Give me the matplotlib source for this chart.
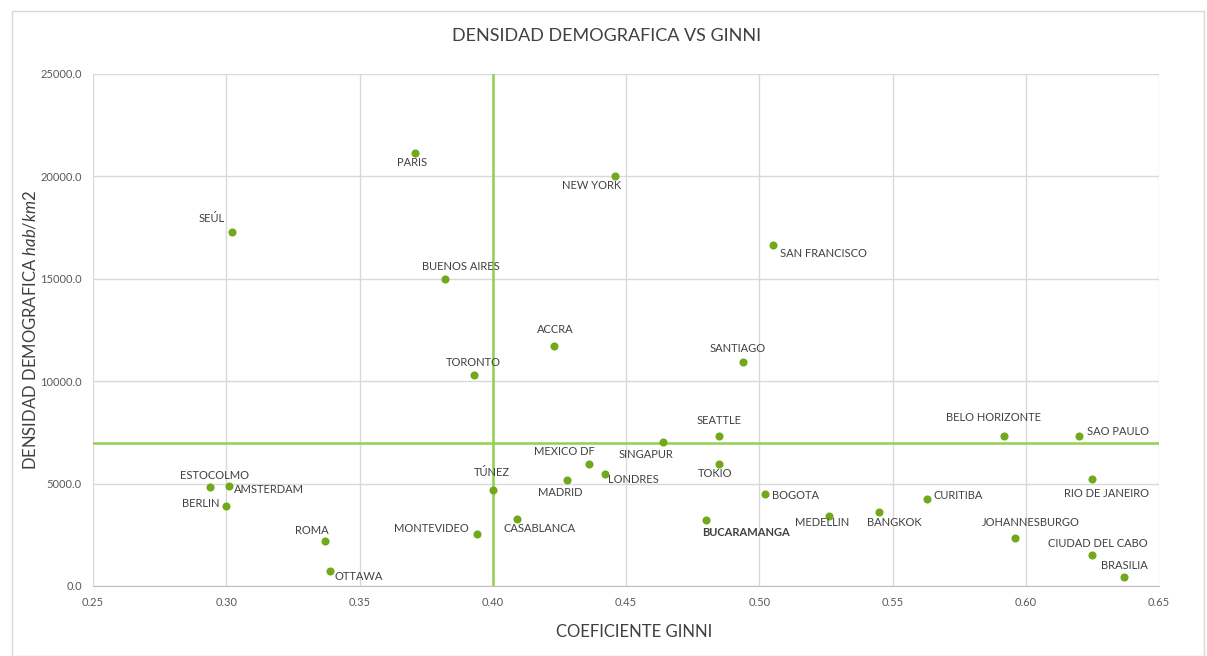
import matplotlib.pyplot as plt
from matplotlib.patches import Rectangle
from matplotlib.ticker import FormatStrFormatter, MultipleLocator

plt.rcParams['font.family'] = ['Lato', 'DejaVu Sans']
plt.rcParams['mathtext.fontset'] = 'custom'
plt.rcParams['mathtext.it'] = 'Lato:italic'
plt.rcParams['mathtext.rm'] = 'Lato'

CIUDADES = ["PARIS", "NEW YORK", "SEÚL", "BUENOS AIRES", "SAN FRANCISCO", "ACCRA",
            "TORONTO", "SANTIAGO", "SEATTLE", "SINGAPUR", "BELO HORIZONTE", "SAO PAULO",
            "MEXICO DF", "TOKIO", "LONDRES", "MADRID", "TÚNEZ", "RIO DE JANEIRO",
            "ESTOCOLMO", "AMSTERDAM", "BERLIN", "BOGOTA", "CURITIBA", "BANGKOK",
            "MEDELLIN", "CASABLANCA", "BUCARAMANGA", "MONTEVIDEO", "ROMA",
            "JOHANNESBURGO", "CIUDAD DEL CABO", "OTTAWA", "BRASILIA"]
GINNI = [0.371, 0.446, 0.302, 0.382, 0.505, 0.423,
         0.393, 0.494, 0.485, 0.464, 0.592, 0.620,
         0.436, 0.485, 0.442, 0.428, 0.400, 0.625,
         0.294, 0.301, 0.300, 0.502, 0.563, 0.545,
         0.526, 0.409, 0.480, 0.394, 0.337,
         0.596, 0.625, 0.339, 0.637]
DENSIDAD = [21150, 20000, 17300, 15000, 16650, 11700,
            10300, 10950, 7330, 7030, 7330, 7330,
            5960, 5960, 5470, 5180, 4690, 5220,
            4840, 4880, 3900, 4490, 4250, 3610,
            3420, 3270, 3220, 2540, 2200,
            2340, 1510, 730, 440]

GINNI_REF = 0.40
DENSIDAD_REF = 7000

# label placement: (dx, dy) in pixels, horizontal alignment
LABEL_POS = {
    "PARIS": (-3, -10, 'center'), "NEW YORK": (-24, -9, 'center'),
    "SEÚL": (-20, 13, 'center'), "BUENOS AIRES": (16, 12, 'center'),
    "SAN FRANCISCO": (7, -8, 'left'), "ACCRA": (1, 17, 'center'),
    "TORONTO": (-1, 13, 'center'), "SANTIAGO": (-6, 13, 'center'),
    "SEATTLE": (0, 15, 'center'), "SINGAPUR": (-17, -12, 'center'),
    "BELO HORIZONTE": (-11, 18, 'center'), "SAO PAULO": (8, 4, 'left'),
    "MEXICO DF": (-24, 12, 'center'), "TOKIO": (-4, -10, 'center'),
    "LONDRES": (3, -6, 'left'), "MADRID": (-7, -13, 'center'),
    "TÚNEZ": (-1, 17, 'center'), "RIO DE JANEIRO": (14, -14, 'center'),
    "ESTOCOLMO": (4, 11, 'center'), "AMSTERDAM": (5, -3, 'left'),
    "BERLIN": (-7, 3, 'right'), "BOGOTA": (7, -1, 'left'),
    "CURITIBA": (6, 3, 'left'), "BANGKOK": (15, -10, 'center'),
    "MEDELLIN": (-6, -7, 'center'), "CASABLANCA": (23, -9, 'center'),
    "BUCARAMANGA": (40, -12, 'center'), "MONTEVIDEO": (-8, 5, 'right'),
    "ROMA": (-13, 10, 'center'), "JOHANNESBURGO": (16, 16, 'center'),
    "CIUDAD DEL CABO": (5, 12, 'center'), "OTTAWA": (4, -5, 'left'),
    "BRASILIA": (0, 11, 'center'),
}

fig = plt.figure(figsize=(12.07, 6.56), dpi=100)
fig.patches.append(Rectangle((12 / 1207, 0), 1192 / 1207, 645 / 656, transform=fig.transFigure,
                             fill=False, edgecolor='#d9d9d9', linewidth=1))
ax = fig.add_axes([93 / 1207, 70 / 656, 1066 / 1207, 512 / 656])

ax.set_xlim(0.25, 0.65)
ax.set_ylim(0, 25000)
ax.xaxis.set_major_locator(MultipleLocator(0.05))
ax.yaxis.set_major_locator(MultipleLocator(5000))
ax.xaxis.set_major_formatter(FormatStrFormatter('%.2f'))
ax.yaxis.set_major_formatter(FormatStrFormatter('%.1f'))
ax.grid(True, color='#d9d9d9', linewidth=1)
ax.set_axisbelow(True)
for s in ['top', 'right', 'left']:
    ax.spines[s].set_visible(False)
ax.spines['bottom'].set_color('#bfbfbf')
ax.tick_params(length=0, labelsize=8, labelcolor='#595959', pad=8)

ax.axvline(GINNI_REF, color='#92d050', linewidth=1.8, zorder=2)
ax.axhline(DENSIDAD_REF, color='#92d050', linewidth=1.8, zorder=2)

ax.scatter(GINNI, DENSIDAD, s=34, color='#72a81c', zorder=3, linewidths=0)

for name, gx, dy in zip(CIUDADES, GINNI, DENSIDAD):
    dxp, dyp, ha = LABEL_POS[name]
    ax.annotate(name, (gx, dy), xytext=(dxp, dyp), textcoords='offset pixels',
                ha=ha, va='center', fontsize=8, color='#404040',
                fontweight='bold' if name == "BUCARAMANGA" else 'normal')

fig.text(607 / 1207, 1 - 36 / 656, "DENSIDAD DEMOGRAFICA VS GINNI", ha='center', va='center',
         fontsize=13, color='#404040')
fig.text(634 / 1207, 1 - 632 / 656, "COEFICIENTE GINNI", ha='center', va='center',
         fontsize=12, color='#404040')
fig.text(30 / 1207, 1 - 330 / 656, r"DENSIDAD DEMOGRAFICA $\it{hab/km2}$", ha='center', va='center',
         rotation=90, fontsize=12, color='#404040')

fig.savefig('out.png', dpi=100)
